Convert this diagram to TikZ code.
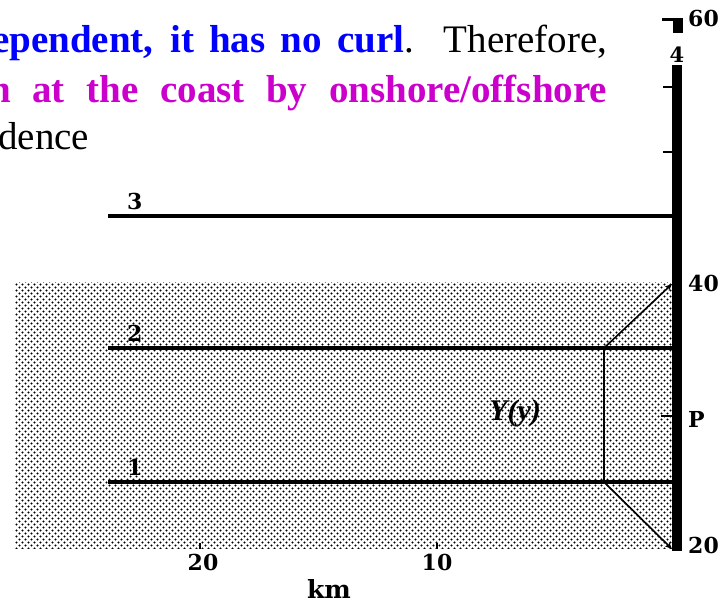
\documentclass[tikz,border=0pt]{standalone}
\usepackage{fontspec}
\setmainfont{Liberation Serif}
\newfontfamily\figfont{DejaVu Serif}
\usepackage{xcolor}
\usetikzlibrary{arrows.meta,positioning,patterns.meta}
\definecolor{curlblue}{RGB}{0,0,255}
\definecolor{coastmag}{RGB}{204,0,204}
\tikzdeclarepattern{
  name=stipple, type=uncolored,
  bottom left={(-.5pt,-.5pt)}, top right={(6.5pt,6.5pt)},
  tile size={(6pt,6pt)},
  code={
    \fill (1.5pt,1.5pt) circle (1.1pt);
    \fill (4.5pt,4.5pt) circle (1.1pt);
  }
}
\tikzset{
  slidetext/.style={anchor=base west, inner sep=0pt,
                    font=\fontsize{39}{47}\selectfont},
  isoline/.style  ={line width=3.8pt},
  isolabel/.style ={inner sep=0pt, font=\fontsize{22}{26}\figfont\bfseries},
  axlabel/.style  ={anchor=west, inner sep=0pt,
                    font=\fontsize{22}{26}\figfont\bfseries},
  kmlabel/.style  ={inner sep=0pt, font=\fontsize{22}{26}\figfont\bfseries},
  axisbar/.style  ={line width=10pt},
  axtick/.style   ={line width=2.5pt},
  flow/.style     ={line width=2pt},
  fan/.style      ={line width=1.6pt, -{Stealth[length=7pt,width=6pt]}},
  shore/.style    ={pattern={stipple}, pattern color=black},
}

\begin{document}
\begin{tikzpicture}[x=1pt,y=-1pt]
  \useasboundingbox (0,0) rectangle (724,601);
  \clip (0,0) rectangle (724,601);
  % slide text cut off at the left
  \node[slidetext] (txta) at (-8,53)
    {\makebox[615pt][s]{\textcolor{curlblue}{\bfseries ependent, it has no curl}. Therefore,}};
  \node[slidetext] (txtb) at (-11,103)
    {\makebox[618pt][s]{\color{coastmag}\bfseries n at the coast by onshore/offshore}};
  \node[slidetext] (txtc) at (-2,150) {dence};
  % shaded strip
  \fill[shore] (15,283) rectangle (672,549);
  % coast axis
  \coordinate (axtop) at (677,65);
  \coordinate (axbot) at (677,551);
  \draw[axisbar] (axtop) -- (axbot);
  \draw[line width=3pt] (662,19.5) -- (683,19.5);
  \draw[line width=10pt] (677.5,18) -- (677.5,33);
  \foreach \yy in {87,152}
    \draw[axtick] (663,\yy) -- (673,\yy);
  \draw[line width=2pt] (661,416) -- (672,416);
  \node[axlabel] (l60) at (688,18) {60};
  \node[inner sep=0pt, font=\fontsize{21}{25}\figfont\bfseries] (l4) at (677,55) {4};
  \node[axlabel] (l40) at (688,283) {40};
  \node[axlabel] (lP)  at (688,419) {P};
  \node[axlabel] (l20) at (688,545) {20};
  % isolines
  \foreach \nm/\yy in {1/482,2/348,3/216}{
    \coordinate (w\nm) at (108,\yy);
    \coordinate (e\nm) at (672,\yy);
    \draw[isoline] (w\nm) -- (e\nm);
    \node[isolabel, above right=6pt and 19pt of w\nm] (n\nm) {\nm};
  }
  % fan towards the coast
  \coordinate (c2) at (604,348);
  \coordinate (c1) at (604,482);
  \coordinate (p40) at (672,284);
  \coordinate (p20) at (672,549);
  \draw[flow] (c2) -- (c1);
  \draw[fan] (c2) -- (p40);
  \draw[fan] (c1) -- (p20);
  \node[font=\fontsize{30}{30}\selectfont\bfseries\itshape] (yy) at (515,413) {Y(y)};
  % distance axis
  \draw[axtick] (200,543) -- (200,549);
  \draw[axtick] (437,543) -- (437,549);
  \node[kmlabel] (k20) at (203,562) {20};
  \node[kmlabel] (k10) at (437,562) {10};
  \node[kmlabel, font=\fontsize{25}{29}\figfont\bfseries] (km) at (329,589) {km};
\end{tikzpicture}
\end{document}
